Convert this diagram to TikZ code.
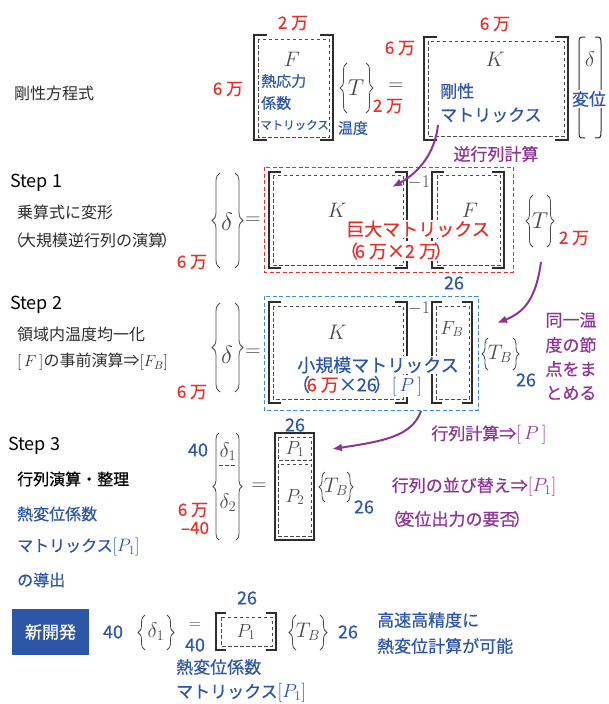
\RequirePackage{fix-cm}
\documentclass[tikz,border=0pt]{standalone}
\usepackage[no-math]{fontspec}
\setmainfont{Noto Sans CJK JP}
\newfontfamily\jpm{Noto Sans CJK JP}[FakeBold=0.6]
\usetikzlibrary{decorations.pathreplacing,arrows.meta}
\definecolor{jred}{RGB}{232,48,42}
\definecolor{jblue}{RGB}{46,86,166}
\definecolor{jpurple}{RGB}{142,52,150}
\definecolor{lblue}{RGB}{60,140,210}
\definecolor{mgray}{RGB}{75,75,75}
\definecolor{tgray}{RGB}{45,45,45}
\newcommand\LBr[4]{\draw[brc=#4] (#1,#3) -- (#1,#2);}
\newcommand\RBr[4]{\draw[brc=#4] (#1,#2) -- (#1,#3);}
\newcommand\MBr[5]{%
  \draw[mb] ({#1+#5},#2) -- (#1,#2) -- (#1,#4) -- ({#1+#5},#4);
  \draw[mb] ({#3-#5},#2) -- (#3,#2) -- (#3,#4) -- ({#3-#5},#4);}
\tikzset{
  fsz/.style={font=\fontsize{#1}{#1}\selectfont},
  fszm/.style={font=\jpm\fontsize{#1}{#1}\selectfont},
  lt/.style={anchor=west, text=tgray, inner sep=0pt, fsz=16},
  st/.style={anchor=west, text=black, inner sep=0pt, fsz=18},
  rn/.style={text=jred, inner sep=0pt, fszm=17},
  bn/.style={text=jblue, inner sep=0pt, fszm=18},
  bl/.style={text=jblue, inner sep=0pt, fszm=17},
  pp/.style={text=jpurple, inner sep=0pt, fszm=17},
  mth/.style={text=mgray, inner sep=0pt, fsz=21},
  mb/.style={draw=tgray, line width=1.3pt},
  dsh/.style={draw=mgray, dash pattern=on 3.5pt off 2.5pt, line width=0.9pt},
  brc/.style={decorate, decoration={brace, amplitude=#1}, draw=mgray, line width=0.8pt},
  parr/.style={draw=jpurple, line width=2pt, -{Latex[length=10pt,width=8pt]}},
  wb/.style={fill=white, inner sep=1pt}
}
\begin{document}
\begin{tikzpicture}[x=1pt,y=-1pt]
\useasboundingbox (0,0) rectangle (608,704);
% ---------- top row
\node[lt] (title) at (14,93) {剛性方程式};
\node[rn] (f2) at (293,23) {2 万};
\node[rn] (f6) at (228,89) {6 万};
\MBr{254}{35}{333}{140}{13}
\draw[dsh] (258,39) rectangle (329,137);
\node[mth] (Flab) at (292,59) {$F$};
\node[bl, anchor=west, fszm=15] (ne1) at (261,81) {熱応力};
\node[bl, anchor=west, fszm=15] (ne2) at (261,103) {係数};
\node[bl, anchor=west, fszm=11.5] (ne3) at (260,125) {マトリックス};
\LBr{347}{63}{113}{7}
\RBr{366}{63}{113}{7}
\node[mth, fsz=23] (Tlab) at (356,88) {$T$};
\node[rn] (t2) at (388,106) {2 万};
\node[bl, fszm=15] (ondo) at (353,128) {温度};
\node[mth] (eq0) at (396,87) {$=$};
\node[rn] (k6a) at (495,24) {6 万};
\node[rn] (k6b) at (400,48) {6 万};
\MBr{424}{37}{568}{140}{13}
\draw[dsh] (428,41) rectangle (564,136);
\node[mth] (Klab) at (495,59) {$K$};
\node[bl, anchor=west] (gosei) at (440,91) {剛性};
\node[bl, anchor=west] (gmat) at (440,115) {マトリックス};
\draw[mb, line width=1pt] (585,37) .. controls (579,37) .. (579,45) -- (579,130) .. controls (579,138) .. (585,138);
\draw[mb, line width=1pt] (595,37) .. controls (601,37) .. (601,45) -- (601,130) .. controls (601,138) .. (595,138);
\node[mth] (dtop) at (590,59) {$\delta$};
\node[bl, wb] (heni) at (589,99) {変位};
\node[pp] (gyaku) at (496,154) {逆行列計算};
% ---------- step 1
\node[st] (s1) at (10,183) {Step 1};
\node[lt] (s1a) at (17,212) {乗算式に変形};
\node[lt] (s1b) at (7,240) {（\kern-3pt 大規模逆行列の演算\kern-3pt ）};
\node[rn] (s16) at (192,262) {6 万};
\LBr{220}{173}{268}{8}
\RBr{235}{173}{268}{8}
\node[mth, fsz=25] (d1) at (227,222) {$\delta$};
\node[mth] (eq1) at (253,221) {$=$};
\draw[draw=jred, dash pattern=on 4pt off 2.5pt, line width=0.9pt] (264,167) rectangle (513,272);
\MBr{269}{172}{407}{268}{12}
\draw[dsh] (273,175) rectangle (403,265);
\node[mth, fsz=18] (m1a) at (419,182) {$-1$};
\MBr{432}{172}{504}{268}{12}
\draw[dsh] (437,175) rectangle (500,265);
\node[mth] (K1) at (337,210) {$K$};
\node[mth] (F1) at (470,210) {$F$};
\node[rn, wb, fszm=18] (kyodai) at (418,229) {巨大マトリックス};
\node[rn, wb, fszm=18] (kyodai2) at (396,251) {（\kern-3pt 6 万×2 万\kern-3pt ）};
\LBr{533}{195}{247}{7}
\RBr{547}{195}{247}{7}
\node[mth, fsz=23] (T1) at (540,221) {$T$};
\node[rn] (s12) at (574,238) {2 万};
% ---------- step 2
\node[st] (s2) at (10,305) {Step 2};
\node[lt] (s2a) at (17,334) {領域内温度均一化};
\node[lt] (s2b) at (17,362) {$[\,F\,]$の事前演算⇒$[F_B]$};
\node[rn] (s26) at (192,392) {6 万};
\LBr{220}{303}{392}{8}
\RBr{235}{303}{392}{8}
\node[mth, fsz=25] (d2) at (227,355) {$\delta$};
\node[mth] (eq2) at (253,353) {$=$};
\draw[draw=lblue, dash pattern=on 4pt off 2.5pt, line width=0.9pt] (264,296) rectangle (478,410);
\MBr{269}{302}{407}{403}{12}
\draw[dsh] (273,306) rectangle (403,399);
\node[mth, fsz=18] (m1b) at (419,308) {$-1$};
\MBr{432}{302}{472}{403}{10}
\draw[dsh] (436,306) rectangle (469,399);
\node[bn] (n26a) at (454,283) {26};
\node[mth] (K2) at (337,332) {$K$};
\node[mth, fsz=19] (FB) at (452,329) {$F_B$};
\node[bl, wb, fszm=18] (shokibo) at (378,365) {小規模マトリックス};
\node[bl, wb, fszm=18] (shokibo2) at (357,386) {（\kern-3pt\textcolor{jred}{6 万}×26\kern-3pt ）\fontsize{19}{19}\selectfont$[\,P\,]$};
\LBr{488}{338}{370}{6}
\RBr{513}{338}{370}{6}
\node[mth, fsz=21] (TB2) at (500,354) {$T_B$};
\node[bn] (n26b) at (526,380) {26};
\node[pp] (dou1) at (571,320) {同一温};
\node[pp] (dou2) at (571,345) {度の節};
\node[pp] (dou3) at (571,369) {点をま};
\node[pp] (dou4) at (571,393) {とめる};
% ---------- step 3
\node[st] (s3) at (8,446) {Step 3};
\node[lt, text=black, fszm=16] (s3a) at (17,479) {行列演算・整理};
\node[lt, text=jblue, fszm=16] (s3b) at (17,514) {熱変位係数};
\node[lt, text=jblue, fszm=16] (s3c) at (17,547) {マトリックス\fontsize{18}{18}\selectfont$[P_1]$};
\node[lt, text=jblue, fszm=16] (s3d) at (17,580) {の導出};
\node[bn] (n40a) at (198,450) {40};
\node[rn] (s36) at (193,510) {6 万};
\node[rn] (s340) at (195,528) {–40};
\LBr{219}{433}{540}{6}
\RBr{236}{433}{540}{6}
\draw[dsh] (219,465) -- (236,465);
\node[mth] (dd1) at (228,452) {$\delta_1$};
\node[mth] (dd2) at (228,503) {$\delta_2$};
\node[mth] (eq3) at (259,487) {$=$};
\draw[mb] (275,433) rectangle (314,540);
\draw[dsh] (278,437) rectangle (311,460);
\draw[dsh] (278,464) rectangle (311,536);
\node[bn] (n26c) at (295,425) {26};
\node[mth, fsz=19] (P1) at (295,449) {$P_1$};
\node[mth, fsz=19] (P2) at (295,497) {$P_2$};
\LBr{325}{472}{502}{6}
\RBr{347}{472}{502}{6}
\node[mth] (TB3) at (336,487) {$T_B$};
\node[bn] (n26d) at (364,507) {26};
\node[pp] (gk) at (489,435) {行列計算⇒\fontsize{19}{19}\selectfont$[\,P\,]$};
\node[pp] (nara) at (474,487) {行列の並び替え⇒\fontsize{19}{19}\selectfont$[P_1]$};
\node[pp] (youhi) at (457,519) {（\kern-3pt 変位出力の要否\kern-3pt ）};
% ---------- bottom
\node[fill=jblue, text=white, fszm=17, minimum width=77pt, minimum height=46pt, inner sep=0pt] (shin) at (50.5,632) {新開発};
\node[bn] (n40b) at (113,632) {40};
\LBr{145}{615}{650}{7}
\RBr{167}{615}{650}{7}
\node[mth] (dd3) at (156,632) {$\delta_1$};
\node[mth, fsz=16] (eq4) at (195,626) {$=$};
\node[bn] (n40c) at (195,645) {40};
\MBr{216}{613}{276}{650}{10}
\draw[dsh] (221,617) rectangle (272,646);
\node[mth, fsz=19] (P1b) at (246,632) {$P_1$};
\node[bn] (n26e) at (247,598) {26};
\LBr{296}{615}{650}{7}
\RBr{320}{615}{650}{7}
\node[mth] (TB4) at (308,632) {$T_B$};
\node[bn] (n26f) at (348,632) {26};
\node[bl, anchor=west] (kou1) at (377,620) {高速高精度に};
\node[bl, anchor=west] (kou2) at (377,646) {熱変位計算が可能};
\node[bl, anchor=west] (neb1) at (176,667) {熱変位係数};
\node[bl, anchor=west] (neb2) at (176,693) {マトリックス\fontsize{19}{19}\selectfont$[P_1]$};
% ---------- arrows
\coordinate (a1s) at (438,125);
\coordinate (a1e) at (392,187);
\draw[parr] (a1s) .. controls (435,152) and (420,172) .. (a1e);
\coordinate (a2s) at (541,262);
\coordinate (a2e) at (497,323);
\draw[parr] (a2s) .. controls (536,298) and (525,312) .. (a2e);
\coordinate (a3s) at (421,411);
\coordinate (a3e) at (332,449);
\draw[parr] (a3s) .. controls (412,436) and (385,441) .. (a3e);
\end{tikzpicture}
\end{document}
